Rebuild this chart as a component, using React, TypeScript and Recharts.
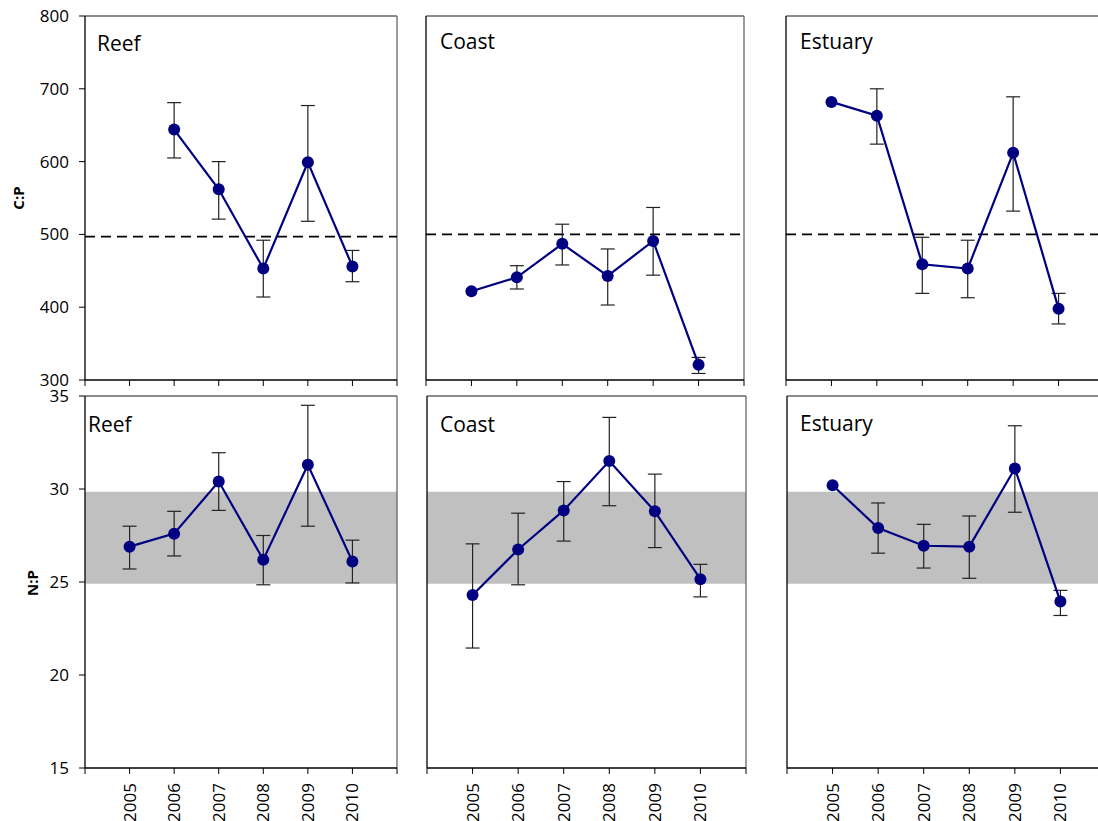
import React from 'react';
import { LineChart, Line, XAxis, YAxis, ErrorBar, ReferenceLine, ReferenceArea } from 'recharts';

const years = [2005, 2006, 2007, 2008, 2009, 2010];
const xTicks = [2004, 2005, 2006, 2007, 2008, 2009, 2010, 2011];
const sites = ['Reef', 'Coast', 'Estuary'];

const cpTicks = [300, 400, 500, 600, 700, 800];
const npTicks = [15, 20, 25, 30, 35];

// C:P means and error limits
const cpReef = [null, 644, 562, 453, 599, 456];
const cpReefHi = [null, 681, 600, 492, 677, 478];
const cpReefLo = [null, 605, 521, 414, 518, 435];
const cpCoast = [422, 441, 487, 443, 491, 321];
const cpCoastHi = [null, 457, 514, 480, 537, 331];
const cpCoastLo = [null, 425, 458, 403, 444, 309];
const cpEstuary = [682, 663, 459, 453, 612, 398];
const cpEstuaryHi = [null, 700, 496, 492, 689, 419];
const cpEstuaryLo = [null, 624, 419, 413, 532, 377];

// N:P means and error limits
const npReef = [26.9, 27.6, 30.4, 26.2, 31.3, 26.1];
const npReefHi = [28.0, 28.8, 31.95, 27.5, 34.5, 27.25];
const npReefLo = [25.7, 26.4, 28.85, 24.85, 28.0, 24.95];
const npCoast = [24.3, 26.75, 28.85, 31.5, 28.8, 25.15];
const npCoastHi = [27.05, 28.7, 30.4, 33.85, 30.8, 25.95];
const npCoastLo = [21.45, 24.85, 27.2, 29.1, 26.85, 24.2];
const npEstuary = [30.2, 27.9, 26.95, 26.9, 31.1, 23.95];
const npEstuaryHi = [null, 29.25, 28.1, 28.55, 33.4, 24.55];
const npEstuaryLo = [null, 26.55, 25.75, 25.2, 28.75, 23.2];

const cpRefLine = [497, 500, 500];
const npBand = [24.9, 29.85];

const NAVY = '#000080';
const FONT = '"Open Sans", sans-serif';
const TICK_SIZE = 17;

type Row = { year: number; value: number | null; err: number[] | null };

function buildRows(mean: (number | null)[], hi: (number | null)[], lo: (number | null)[]): Row[] {
  return years.map((year, i) => {
    const m = mean[i];
    const h = hi[i];
    const l = lo[i];
    return {
      year,
      value: m,
      err: m == null || h == null || l == null ? null : [m - l, h - m],
    };
  });
}

const cpRows = [
  buildRows(cpReef, cpReefHi, cpReefLo),
  buildRows(cpCoast, cpCoastHi, cpCoastLo),
  buildRows(cpEstuary, cpEstuaryHi, cpEstuaryLo),
];
const npRows = [
  buildRows(npReef, npReefHi, npReefLo),
  buildRows(npCoast, npCoastHi, npCoastLo),
  buildRows(npEstuary, npEstuaryHi, npEstuaryLo),
];

const YearTick = (props: any) => {
  const { x, y, payload } = props;
  if (payload.value < 2005 || payload.value > 2010) return <g />;
  return (
    <text
      x={x}
      y={y}
      transform={`rotate(-90, ${x}, ${y})`}
      textAnchor="end"
      dy="0.35em"
      fontSize={TICK_SIZE}
      fontFamily={FONT}
      fill="#000"
    >
      {payload.value}
    </text>
  );
};

const NoTick = () => <g />;

interface PanelProps {
  rows: Row[];
  left: number;
  top: number;
  w: number;
  h: number;
  domain: [number, number];
  yTicks: number[];
  showY: boolean;
  showX: boolean;
  refY?: number;
  band?: number[];
}

const Panel: React.FC<PanelProps> = ({ rows, left, top, w, h, domain, yTicks, showY, showX, refY, band }) => {
  const yw = showY ? 85 : 10;
  const xh = showX ? 60 : 20;
  const padTop = 20;
  const padRight = 10;
  return (
    <div style={{ position: 'absolute', left: left - yw, top: top - padTop }}>
      <LineChart
        width={yw + w + padRight}
        height={padTop + h + xh}
        data={rows}
        margin={{ top: padTop, right: padRight, bottom: 0, left: 0 }}
      >
        {band && (
          <ReferenceArea y1={band[0]} y2={band[1]} fill="#c0c0c0" fillOpacity={1} stroke="none" />
        )}
        <XAxis
          dataKey="year"
          type="number"
          domain={[2004, 2011]}
          ticks={xTicks}
          interval={0}
          height={xh}
          axisLine={{ stroke: '#000', strokeWidth: 1.3 }}
          tickLine={{ stroke: '#000' }}
          tickSize={6}
          tickMargin={9}
          tick={showX ? <YearTick /> : <NoTick />}
        />
        <YAxis
          type="number"
          domain={domain}
          ticks={yTicks}
          interval={0}
          width={yw}
          axisLine={{ stroke: '#000', strokeWidth: 1.3 }}
          tickLine={showY ? { stroke: '#000' } : false}
          tickSize={6}
          tickMargin={10}
          tick={showY ? { fill: '#000', fontSize: TICK_SIZE, fontFamily: FONT } : false}
        />
        <ReferenceLine y={domain[1]} stroke="#666" strokeWidth={1.3} />
        <ReferenceLine x={2011} stroke="#666" strokeWidth={1.3} />
        {refY !== undefined && (
          <ReferenceLine y={refY} stroke="#000" strokeWidth={1.6} strokeDasharray="10 6" />
        )}
        <Line
          dataKey="value"
          stroke={NAVY}
          strokeWidth={2.2}
          dot={{ r: 6, fill: NAVY, stroke: NAVY, strokeWidth: 0 }}
          activeDot={false}
          isAnimationActive={false}
        >
          <ErrorBar dataKey="err" width={7} stroke="#222" strokeWidth={1.2} direction="y" />
        </Line>
      </LineChart>
    </div>
  );
};

const topCols = [
  { left: 85, w: 312 },
  { left: 426, w: 318 },
  { left: 786, w: 318 },
];
const bottomCols = [
  { left: 85, w: 312 },
  { left: 427, w: 319 },
  { left: 787, w: 319 },
];
const topTitlePos = [
  { x: 97, y: 51 },
  { x: 440, y: 49 },
  { x: 800, y: 49 },
];
const bottomTitlePos = [
  { x: 88, y: 432 },
  { x: 440, y: 432 },
  { x: 800, y: 431 },
];

export default function App() {
  return (
    <div
      style={{
        position: 'absolute',
        left: 0,
        top: 0,
        width: 1098,
        height: 821,
        overflow: 'hidden',
        background: '#fff',
      }}
    >
      {sites.map((s, i) => (
        <Panel
          key={'cp' + s}
          rows={cpRows[i]}
          left={topCols[i].left}
          top={16}
          w={topCols[i].w}
          h={364}
          domain={[300, 800]}
          yTicks={cpTicks}
          showY={i === 0}
          showX={false}
          refY={cpRefLine[i]}
        />
      ))}
      {sites.map((s, i) => (
        <Panel
          key={'np' + s}
          rows={npRows[i]}
          left={bottomCols[i].left}
          top={396}
          w={bottomCols[i].w}
          h={372}
          domain={[15, 35]}
          yTicks={npTicks}
          showY={i === 0}
          showX={true}
          band={npBand}
        />
      ))}
      <svg
        width={1098}
        height={821}
        style={{ position: 'absolute', left: 0, top: 0, pointerEvents: 'none' }}
      >
        {sites.map((s, i) => (
          <text key={'t' + s} x={topTitlePos[i].x} y={topTitlePos[i].y} fontSize={21} fontFamily={FONT} fill="#000">
            {s}
          </text>
        ))}
        {sites.map((s, i) => (
          <text key={'b' + s} x={bottomTitlePos[i].x} y={bottomTitlePos[i].y} fontSize={21} fontFamily={FONT} fill="#000">
            {s}
          </text>
        ))}
        <text
          x={24}
          y={198}
          transform="rotate(-90, 24, 198)"
          textAnchor="middle"
          fontSize={15}
          fontWeight="bold"
          fontFamily={FONT}
          fill="#000"
        >
          C:P
        </text>
        <text
          x={37.5}
          y={583}
          transform="rotate(-90, 37.5, 583)"
          textAnchor="middle"
          fontSize={15}
          fontWeight="bold"
          fontFamily={FONT}
          fill="#000"
        >
          N:P
        </text>
      </svg>
    </div>
  );
}
